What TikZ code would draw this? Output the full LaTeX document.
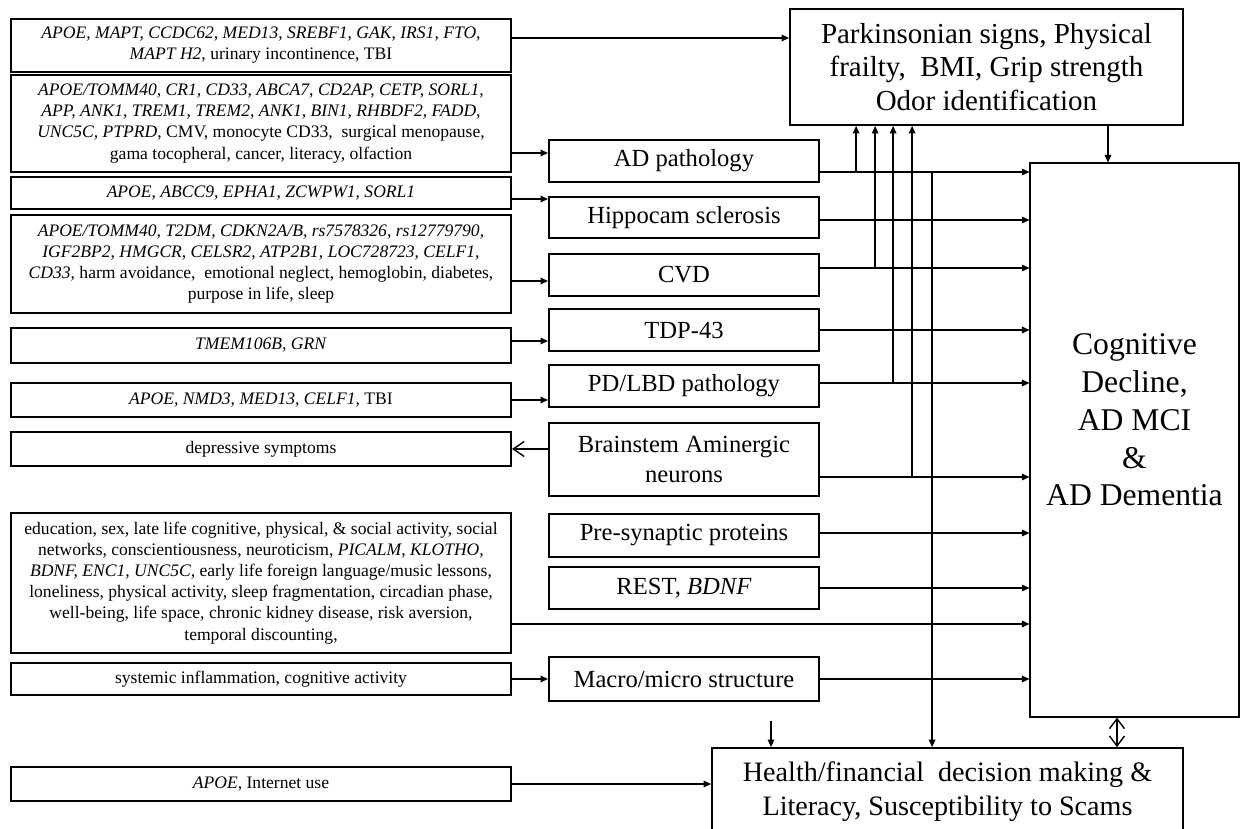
\documentclass[tikz,border=0pt]{standalone}
\usepackage{fontspec}
\setmainfont{Liberation Serif}
\usetikzlibrary{arrows.meta}

\begin{document}
\begin{tikzpicture}[
    line width=0.8pt,
    >={Triangle[length=1.5mm,width=1.3mm]},
    lbox/.style={draw, line width=1.1pt, minimum width=10cm, inner sep=0pt,
      align=center, font=\fontsize{10}{12}\selectfont},
    mbox/.style={draw, line width=1.1pt, minimum width=5.4cm, inner sep=0pt,
      align=center, font=\fontsize{14}{17}\selectfont},
    back/.style={-{Straight Barb[length=2.2mm,width=3mm]}},
    both/.style={{Straight Barb[length=2mm,width=3mm]}-{Straight Barb[length=2mm,width=3mm]}}]
  \useasboundingbox (0,0) rectangle (24.92,-16.58);

  \node[lbox, minimum height=1.06cm] (l1) at (5.22,-0.91)
    {\textit{APOE, MAPT, CCDC62, MED13, SREBF1, GAK, IRS1, FTO,}\\
     \textit{MAPT H2,} urinary incontinence, TBI};
  \node[lbox, minimum height=1.94cm] (l2) at (5.22,-2.47)
    {\textit{APOE/TOMM40, CR1, CD33, ABCA7, CD2AP, CETP, SORL1,}\\
     \textit{APP, ANK1, TREM1, TREM2, ANK1, BIN1, RHBDF2, FADD,}\\
     \textit{UNC5C, PTPRD,} CMV, monocyte CD33,\ \ surgical menopause,\\
     gama tocopheral, cancer, literacy, olfaction};
  \node[lbox, minimum height=0.64cm] (l3) at (5.22,-3.86)
    {\textit{APOE, ABCC9, EPHA1, ZCWPW1, SORL1}};
  \node[lbox, minimum height=1.96cm] (l4) at (5.22,-5.28)
    {\textit{APOE/TOMM40, T2DM, CDKN2A/B, rs7578326, rs12779790,}\\
     \textit{IGF2BP2, HMGCR, CELSR2, ATP2B1, LOC728723, CELF1,}\\
     \textit{CD33,} harm avoidance,\ \ emotional neglect, hemoglobin, diabetes,\\
     purpose in life, sleep};
  \node[lbox, minimum height=0.70cm] (l5) at (5.22,-6.91) {\textit{TMEM106B, GRN}};
  \node[lbox, minimum height=0.68cm] (l6) at (5.22,-8.00)
    {\textit{APOE, NMD3, MED13, CELF1}, TBI};
  \node[lbox, minimum height=0.68cm] (dep) at (5.22,-8.98) {depressive symptoms};
  \node[lbox, minimum height=2.80cm] (l8) at (5.22,-11.66)
    {education, sex, late life cognitive, physical, \& social activity, social\\
     networks, conscientiousness, neuroticism, \textit{PICALM, KLOTHO,}\\
     \textit{BDNF, ENC1, UNC5C,} early life foreign language/music lessons,\\
     loneliness, physical activity, sleep fragmentation, circadian phase,\\
     well-being, life space, chronic kidney disease,\ risk aversion,\\
     temporal discounting,};
  \node[lbox, minimum height=0.64cm] (l9) at (5.22,-13.58)
    {systemic inflammation, cognitive activity};
  \node[lbox, minimum height=0.68cm] (l10) at (5.22,-15.68) {\textit{APOE}, Internet use};

  \node[mbox, minimum height=0.84cm] (ad) at (13.68,-3.22) {AD pathology};
  \node[mbox, minimum height=0.82cm] (hs) at (13.68,-4.35) {Hippocam sclerosis};
  \node[mbox, minimum height=0.84cm] (cvd) at (13.68,-5.50) {CVD};
  \node[mbox, minimum height=0.84cm] (tdp) at (13.68,-6.60) {TDP-43};
  \node[mbox, minimum height=0.84cm] (pd) at (13.68,-7.72) {PD/LBD pathology};
  \node[mbox, minimum height=1.46cm] (bs) at (13.68,-9.19) {Brainstem Aminergic\\ neurons};
  \node[mbox, minimum height=0.86cm] (ps) at (13.68,-10.71) {Pre-synaptic proteins};
  \node[mbox, minimum height=0.84cm] (rest) at (13.68,-11.76) {REST, \textit{BDNF}};
  \node[mbox, minimum height=0.88cm] (mm) at (13.68,-13.58) {Macro/micro structure};

  \node[draw, line width=1pt, minimum width=7.86cm, minimum height=2.32cm, align=center,
    font=\fontsize{16.5}{19}\selectfont] (park) at (19.73,-1.34)
    {Parkinsonian signs, Physical\\ frailty,\ \ BMI, Grip strength\\ Odor identification};
  \node[draw, line width=0.6pt, minimum width=4.18cm, minimum height=11.08cm] (cog) at (22.69,-8.80) {};
  \node[align=center, font=\fontsize{18}{21.5}\selectfont] (cogtext) at ([yshift=4mm]cog.center)
    {Cognitive\\ Decline,\\ AD MCI\\ \&\\ AD Dementia};
  \node[draw, line width=1pt, minimum width=9.42cm, minimum height=1.74cm, align=center,
    font=\fontsize{16}{19}\selectfont] (health) at (18.95,-15.83)
    {Health/financial\ \ decision making \&\\ Literacy, Susceptibility to Scams};

  \coordinate (a1) at ([yshift=1.5mm]l1.east);
  \coordinate (a2) at ([yshift=-5.9mm]l2.east);
  \coordinate (a3) at ([yshift=-1.2mm]l3.east);
  \coordinate (a4) at ([yshift=-3.4mm]l4.east);
  \coordinate (a5) at ([yshift=0.9mm]l5.east);
  \coordinate (a8) at ([yshift=-8.2mm]l8.east);
  \draw[->] (a1) -- (a1 -| park.west);
  \draw[->] (a2) -- (a2 -| ad.west);
  \draw[->] (a3) -- (a3 -| hs.west);
  \draw[->] (a4) -- (a4 -| cvd.west);
  \draw[->] (a5) -- (a5 -| tdp.west);
  \draw[->] (l6.east) -- (l6.east -| pd.west);
  \draw[back] (dep.east -| bs.west) -- (dep.east);
  \draw[->] (l9.east) -- (mm.west);
  \draw[->] (l10.east) -- (l10.east -| health.west);

  \coordinate (adr) at ([yshift=-2.2mm]ad.east);
  \coordinate (hsr) at ([yshift=-0.5mm]hs.east);
  \coordinate (cvdr) at ([yshift=1.4mm]cvd.east);
  \coordinate (pdr) at ([yshift=0.6mm]pd.east);
  \coordinate (bsr) at ([yshift=-3.5mm]bs.east);
  \coordinate (psr) at ([yshift=0.5mm]ps.east);
  \foreach \src in {adr, hsr, cvdr, tdp.east, pdr, bsr, psr, rest.east, a8, mm.east}
    \draw[->] (\src) -- (\src -| cog.west);

  \foreach \dx/\src in {13.4/adr, 17.2/cvdr, 20.8/pdr, 24.6/bsr}
    \draw[->] ([xshift=\dx mm]park.south west |- \src) -- ([xshift=\dx mm]park.south west);
  \draw[->] ([xshift=28.6mm]park.south west |- adr) -- ([xshift=28.6mm]park.south west |- health.north);
  \draw[->] ([xshift=-5.3mm]cog.north |- park.south) -- ([xshift=-5.3mm]cog.north);
  \draw[both] ([xshift=-3.5mm]cog.south) -- ([xshift=-3.5mm]cog.south |- health.north);
  \coordinate (drop) at (15.42,-14.42);
  \draw[->] (drop) -- (drop |- health.north);
\end{tikzpicture}
\end{document}
